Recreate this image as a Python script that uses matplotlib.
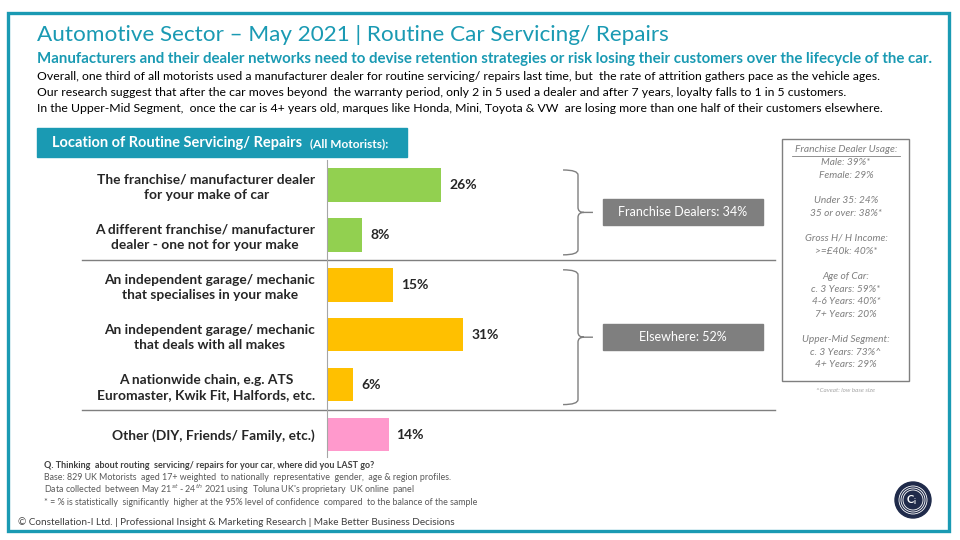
import matplotlib
matplotlib.use("Agg")
import matplotlib.pyplot as plt
from matplotlib.patches import Rectangle, Circle, PathPatch
from matplotlib.path import Path

plt.rcParams['font.family'] = ['Lato', 'DejaVu Sans']

# data
categories = [
    "The franchise/ manufacturer dealer\nfor your make of car",
    "A different franchise/ manufacturer\ndealer - one not for your make",
    "An independent garage/ mechanic\nthat specialises in your make",
    "An independent garage/ mechanic\nthat deals with all makes",
    "A nationwide chain, e.g. ATS\nEuromaster, Kwik Fit, Halfords, etc.",
    "Other (DIY, Friends/ Family, etc.)",
]
values = [26, 8, 15, 31, 6, 14]
bar_colors = ["#92D050", "#92D050", "#FFC000", "#FFC000", "#FFC000", "#FF99CC"]
groups = [("Franchise Dealers: 34%", 0, 1), ("Elsewhere: 52%", 2, 4)]
side_lines = [
    "Male: 39%*", "Female: 29%", "",
    "Under 35: 24%", "35 or over: 38%*", "",
    "Gross H/ H Income:", ">=£40k: 40%*", "",
    "Age of Car:", "c. 3 Years: 59%*", "4-6 Years: 40%*", "7+ Years: 20%", "",
    "Upper-Mid Segment:", "c. 3 Years: 73%^", "4+ Years: 29%",
]

TEAL = "#1A9AB3"
GREY = "#7F7F7F"
W, H = 960, 540

fig = plt.figure(figsize=(9.6, 5.4), dpi=100)

# overlay axes in pixel coords for decoration
ov = fig.add_axes([0, 0, 1, 1])
ov.set_xlim(0, W)
ov.set_ylim(H, 0)
ov.axis("off")

# border
ov.add_patch(Rectangle((8, 13), 941, 518, fill=False, ec=TEAL, lw=2.4))

# titles
ov.text(37, 35, "Automotive Sector – May 2021 | Routine Car Servicing/ Repairs",
        color=TEAL, fontsize=16.2, va="center")
ov.text(37, 59, "Manufacturers and their dealer networks need to devise retention strategies or risk losing their customers over the lifecycle of the car.",
        color=TEAL, fontsize=10.8, fontweight="bold", va="center")
body = [
    "Overall, one third of all motorists used a manufacturer dealer for routine servicing/ repairs last time, but  the rate of attrition gathers pace as the vehicle ages.",
    "Our research suggest that after the car moves beyond  the warranty period, only 2 in 5 used a dealer and after 7 years, loyalty falls to 1 in 5 customers.",
    "In the Upper-Mid Segment,  once the car is 4+ years old, marques like Honda, Mini, Toyota & VW  are losing more than one half of their customers elsewhere.",
]
for i, line in enumerate(body):
    ov.text(37, 76 + i * 16.3, line, fontsize=8.8, va="center", color="black")

# header box
ov.add_patch(Rectangle((37, 128), 370, 29, color=TEAL))
ov.text(52, 143, "Location of Routine Servicing/ Repairs", color="white",
        fontsize=10.5, fontweight="bold", va="center")
ov.text(310, 143.5, "(All Motorists):", color="white", fontsize=8.6,
        fontweight="bold", va="center")

# bar chart
ax = fig.add_axes([327 / W, 1 - 457 / H, 440 / W, 297 / H])
ypos = list(range(len(values)))
ax.barh(ypos, values, height=0.67, color=bar_colors)
ax.set_xlim(0, 100)
ax.set_ylim(5.45, -0.5)
for s in ["top", "right", "bottom"]:
    ax.spines[s].set_visible(False)
ax.spines["left"].set_color("#A6A6A6")
ax.set_xticks([])
ax.set_yticks(ypos)
ax.set_yticklabels(categories, fontsize=9.9, fontweight="bold", color="#262626",
                   ha="right", linespacing=1.3)
for t in ax.get_yticklabels():
    t.set_multialignment("center")
ax.tick_params(axis="y", length=0, pad=8.5)
for y, v in zip(ypos, values):
    ax.text(v + 1.8, y, f"{v}%", va="center", fontsize=10, fontweight="bold",
            color="#262626")

# separators between groups
px = 4.4  # pixels per %
for yy in [1.5, 4.5]:
    ax.plot([(82 - 327) / px, (775 - 327) / px], [yy, yy], color=GREY, lw=1,
            clip_on=False)


def brace(ax, x0, y0, y1, hook=3.4, tip=3.4, r=0.1):
    ym = (y0 + y1) / 2
    verts = [
        (x0 - hook, y0), (x0, y0), (x0, y0 + r),
        (x0, ym - r), (x0, ym), (x0 + tip * 0.4, ym),
        (x0 + tip, ym),
        (x0 + tip * 0.4, ym), (x0, ym), (x0, ym + r),
        (x0, y1 - r), (x0, y1), (x0 - hook, y1),
    ]
    codes = [Path.MOVETO, Path.CURVE3, Path.CURVE3,
             Path.LINETO, Path.CURVE3, Path.CURVE3,
             Path.LINETO,
             Path.MOVETO, Path.CURVE3, Path.CURVE3,
             Path.LINETO, Path.CURVE3, Path.CURVE3]
    ax.add_patch(PathPatch(Path(verts, codes), fill=False, ec=GREY, lw=1,
                           clip_on=False))


for label, g0, g1 in groups:
    brace(ax, (578 - 327) / px, g0 - 0.3, g1 + 0.4)
    ym = (g0 + g1) / 2 + 0.05
    ax.add_patch(Rectangle(((603 - 327) / px, ym - 0.26), 160 / px, 0.52,
                           color=GREY, clip_on=False))
    ax.text((683 - 327) / px, ym, label, color="white", fontsize=9,
            ha="center", va="center", clip_on=False)

# side box
ov.add_patch(Rectangle((782, 139), 127, 242, fill=False, ec=GREY, lw=1))
ov.text(846, 150, "Franchise Dealer Usage:", color=GREY, fontsize=7.4,
        style="italic", ha="center", va="center")
ov.plot([792, 900], [156, 156], color=GREY, lw=0.6)
for i, line in enumerate(side_lines):
    ov.text(846, 162.5 + i * 12.65, line, color=GREY, fontsize=7.3,
            style="italic", ha="center", va="center")
ov.text(846, 391, "^Caveat: low base size", color="#A6A6A6", fontsize=4.5,
        style="italic", ha="center", va="center")

# footnotes
ov.text(44, 465, "Q. Thinking  about routing  servicing/ repairs for your car, where did you LAST go?",
        fontsize=6.5, fontweight="bold", color="#404040", va="center")
notes = [
    "Base: 829 UK Motorists  aged 17+ weighted  to nationally  representative  gender,  age & region profiles.",
    "Data collected  between May 21$^{st}$ - 24$^{th}$ 2021 using  Toluna UK's proprietary  UK online  panel",
    "* = % is statistically  significantly  higher at the 95% level of confidence  compared  to the balance of the sample",
]
for i, line in enumerate(notes):
    ov.text(44, 478 + i * 12.2, line, fontsize=6.4, color="#595959", va="center")
ov.text(18, 522, "© Constellation-I Ltd. | Professional Insight & Marketing Research | Make Better Business Decisions",
        fontsize=7.2, color="#404040", va="center")

# logo
ov.add_patch(Circle((913, 500), 18, color="#1F2A4A"))
for rr in [14, 12, 10]:
    ov.add_patch(Circle((913, 500), rr, fill=False, ec="white", lw=0.6))
ov.text(912, 500, "C$_\\mathregular{i}$", color="white", fontsize=8,
        fontweight="bold", ha="center", va="center")

fig.savefig("out.png", dpi=100)
